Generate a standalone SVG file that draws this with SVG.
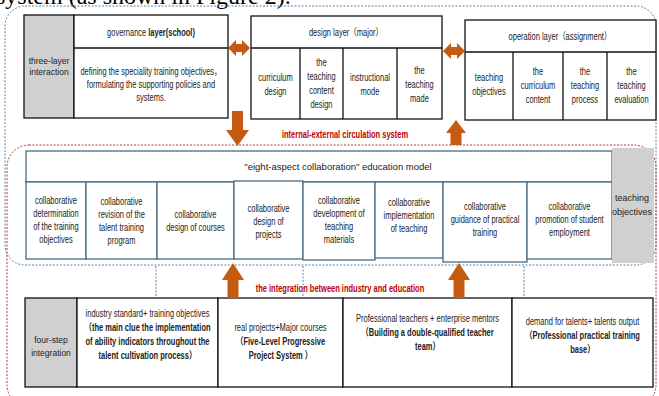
<svg xmlns="http://www.w3.org/2000/svg" width="659" height="396" viewBox="0 0 659 396">
<style>
.t{font-family:"Liberation Sans","Noto Sans CJK SC",sans-serif;font-size:10px;fill:#222;text-anchor:middle}
.u{font-family:"Liberation Sans","Noto Sans CJK SC",sans-serif;font-size:8.5px;fill:#222;text-anchor:middle}
.b{font-weight:bold}
.box{fill:#fff;stroke:#111;stroke-width:1.3}
.mbox{fill:#fff;stroke:#4A6B82;stroke-width:1.3}
.gray{fill:#D0D0D0;stroke:#111;stroke-width:1.3}
.gray2{fill:#D0D0D0;stroke:none}
.ln{stroke:#111;stroke-width:1.3}
.arr{fill:#C55A11}
.red{fill:#C00000;font-weight:bold}
.bd{fill:none;stroke:#5B82AE;stroke-width:1;stroke-dasharray:2 1.5}
.rd{fill:none;stroke:#B03A3A;stroke-width:1;stroke-dasharray:2 1.5}
.cap{font-family:"Liberation Serif",serif;font-size:24px;fill:#000}
</style>
<rect width="659" height="396" fill="#fff"/>
<text class="cap" x="-4" y="4">system (as shown in Figure 2).</text>

<g id="frames">
<rect class="bd" x="5" y="6" width="651" height="259" rx="20"/>
<rect class="rd" x="7" y="145" width="649" height="262" rx="22"/>
</g>

<g id="three-layer">
<rect class="gray" x="24" y="15" width="50" height="103"/>
<text class="u" x="49" y="64">three-layer</text>
<text class="u" x="49" y="75">interaction</text>
</g>

<g id="governance">
<rect class="box" x="74" y="15" width="154" height="103"/>
<line class="ln" x1="74" y1="48" x2="228" y2="48"/>
<g transform="scale(0.75 1)">
<text class="t" x="201.33" y="36">governance <tspan class="b">layer(school)</tspan></text>
<text class="t" x="201.33" y="75">defining the speciality training objectives，</text>
<text class="t" x="201.33" y="88">formulating the supporting policies and</text>
<text class="t" x="201.33" y="101">systems.</text>
</g>
</g>

<g id="design">
<rect class="box" x="251" y="16" width="191" height="103"/>
<line class="ln" x1="251" y1="48" x2="442" y2="48"/>
<line class="ln" x1="300" y1="48" x2="300" y2="119"/>
<line class="ln" x1="343" y1="48" x2="343" y2="119"/>
<line class="ln" x1="397" y1="48" x2="397" y2="119"/>
<g transform="scale(0.75 1)">
<text class="t" x="461.33" y="36">design layer（major）</text>
<text class="t" x="367.33" y="81">curriculum</text>
<text class="t" x="367.33" y="95">design</text>
<text class="t" x="428.67" y="66">the</text>
<text class="t" x="428.67" y="80">teaching</text>
<text class="t" x="428.67" y="94">content</text>
<text class="t" x="428.67" y="108">design</text>
<text class="t" x="493.33" y="81">instructional</text>
<text class="t" x="493.33" y="95">mode</text>
<text class="t" x="559.33" y="74">the</text>
<text class="t" x="559.33" y="88">teaching</text>
<text class="t" x="559.33" y="102">made</text>
</g>
</g>

<g id="operation">
<rect class="box" x="465" y="20" width="191" height="100"/>
<line class="ln" x1="465" y1="52" x2="656" y2="52"/>
<line class="ln" x1="513" y1="52" x2="513" y2="120"/>
<line class="ln" x1="563" y1="52" x2="563" y2="120"/>
<line class="ln" x1="607" y1="52" x2="607" y2="120"/>
<g transform="scale(0.75 1)">
<text class="t" x="746.67" y="40">operation layer（assignment）</text>
<text class="t" x="652" y="81">teaching</text>
<text class="t" x="652" y="95">objectives</text>
<text class="t" x="717.33" y="75">the</text>
<text class="t" x="717.33" y="89">curriculum</text>
<text class="t" x="717.33" y="103">content</text>
<text class="t" x="780" y="75">the</text>
<text class="t" x="780" y="89">teaching</text>
<text class="t" x="780" y="103">process</text>
<text class="t" x="842" y="75">the</text>
<text class="t" x="842" y="89">teaching</text>
<text class="t" x="842" y="103">evaluation</text>
</g>
</g>

<g id="model">
<rect class="mbox" x="26" y="151" width="586" height="31"/>
<text class="t" x="338" y="170" style="font-size:9.5px">"eight-aspect collaboration" education model</text>
<rect class="mbox" x="26" y="182" width="60" height="77"/>
<rect class="mbox" x="86" y="182" width="71" height="77"/>
<rect class="mbox" x="157" y="182" width="77" height="77"/>
<rect class="mbox" x="234" y="181" width="69" height="78"/>
<rect class="mbox" x="303" y="182" width="72" height="78"/>
<rect class="mbox" x="375" y="182" width="68" height="76"/>
<rect class="mbox" x="443" y="182" width="84" height="80"/>
<rect class="mbox" x="527" y="182" width="85" height="77"/>
<g transform="scale(0.75 1)">
<text class="t" x="74.67" y="204">collaborative</text>
<text class="t" x="74.67" y="217">determination</text>
<text class="t" x="74.67" y="230">of the training</text>
<text class="t" x="74.67" y="243">objectives</text>
<text class="t" x="162" y="205">collaborative</text>
<text class="t" x="162" y="218">revision of the</text>
<text class="t" x="162" y="231">talent training</text>
<text class="t" x="162" y="244">program</text>
<text class="t" x="260.67" y="218">collaborative</text>
<text class="t" x="260.67" y="231">design of courses</text>
<text class="t" x="358" y="212">collaborative</text>
<text class="t" x="358" y="225">design of</text>
<text class="t" x="358" y="238">projects</text>
<text class="t" x="452" y="204">collaborative</text>
<text class="t" x="452" y="217">development of</text>
<text class="t" x="452" y="230">teaching</text>
<text class="t" x="452" y="243">materials</text>
<text class="t" x="545.33" y="206">collaborative</text>
<text class="t" x="545.33" y="219">implementation</text>
<text class="t" x="545.33" y="232">of teaching</text>
<text class="t" x="646.67" y="210">collaborative</text>
<text class="t" x="646.67" y="223">guidance of practical</text>
<text class="t" x="646.67" y="236">training</text>
<text class="t" x="759.33" y="210">collaborative</text>
<text class="t" x="759.33" y="223">promotion of student</text>
<text class="t" x="759.33" y="236">employment</text>
</g>
</g>

<g id="teaching-objectives">
<rect class="gray2" x="612" y="148" width="42" height="115"/>
<text class="u" x="632" y="201" style="font-size:9px">teaching</text>
<text class="u" x="632" y="215" style="font-size:9px">objectives</text>
</g>

<g id="four-step">
<rect class="gray" x="25" y="298" width="52" height="89"/>
<text class="u" x="51" y="343">four-step</text>
<text class="u" x="51" y="356">integration</text>
</g>

<g id="step1">
<rect class="box" x="77" y="298" width="141" height="89"/>
<g transform="scale(0.75 1)">
<text class="t" x="196.67" y="317">industry standard+ training objectives</text>
<text class="t b" x="196.67" y="331">（the main clue the implementation</text>
<text class="t b" x="196.67" y="345">of ability indicators throughout the</text>
<text class="t b" x="196.67" y="359">talent cultivation process）</text>
</g>
</g>

<g id="step2">
<rect class="box" x="218" y="298" width="125" height="89"/>
<g transform="scale(0.75 1)">
<text class="t" x="374" y="331">real projects+Major courses</text>
<text class="t b" x="374" y="345">（Five-Level Progressive</text>
<text class="t b" x="374" y="359">Project System ）</text>
</g>
</g>

<g id="step3">
<rect class="box" x="343" y="298" width="169" height="89"/>
<g transform="scale(0.75 1)">
<text class="t" x="570" y="322">Professional teachers + enterprise mentors</text>
<text class="t b" x="570" y="336">（Building a double-qualified teacher</text>
<text class="t b" x="570" y="350">team）</text>
</g>
</g>

<g id="step4">
<rect class="box" x="512" y="298" width="141" height="89"/>
<g transform="scale(0.75 1)">
<text class="t" x="776.67" y="325">demand for talents+ talents output</text>
<text class="t b" x="776.67" y="339">（Professional practical training</text>
<text class="t b" x="776.67" y="353">base）</text>
</g>
</g>

<g id="connectors">
<polygon class="arr" points="228,48 236,40 236,44 242,44 242,40 250,48 242,56 242,52 236,52 236,56"/>
<polygon class="arr" points="443,51 451,43 451,47 457,47 457,43 465,51 457,59 457,55 451,55 451,59"/>
<polygon class="arr" points="232,111 243,111 243,130 249,130 237.5,146 226,130 232,130"/>
<polygon class="arr" points="450.5,145 461.5,145 461.5,133 466,133 456,120 446,133 450.5,133"/>
<polygon class="arr" points="227.5,298 238.5,298 238.5,280 244,280 233,263 222,280 227.5,280"/>
<polygon class="arr" points="453.5,298 464.5,298 464.5,280 470,280 459,263 448,280 453.5,280"/>
<line class="bd" x1="156" y1="266" x2="156" y2="298"/>
<line class="bd" x1="303" y1="266" x2="303" y2="298"/>
<line class="bd" x1="524" y1="266" x2="524" y2="298"/>
<g transform="scale(0.75 1)">
<text class="t red" x="460" y="138">internal-external circulation system</text>
<text class="t red" x="453.33" y="292">the integration between industry and education</text>
</g>
</g>
</svg>
